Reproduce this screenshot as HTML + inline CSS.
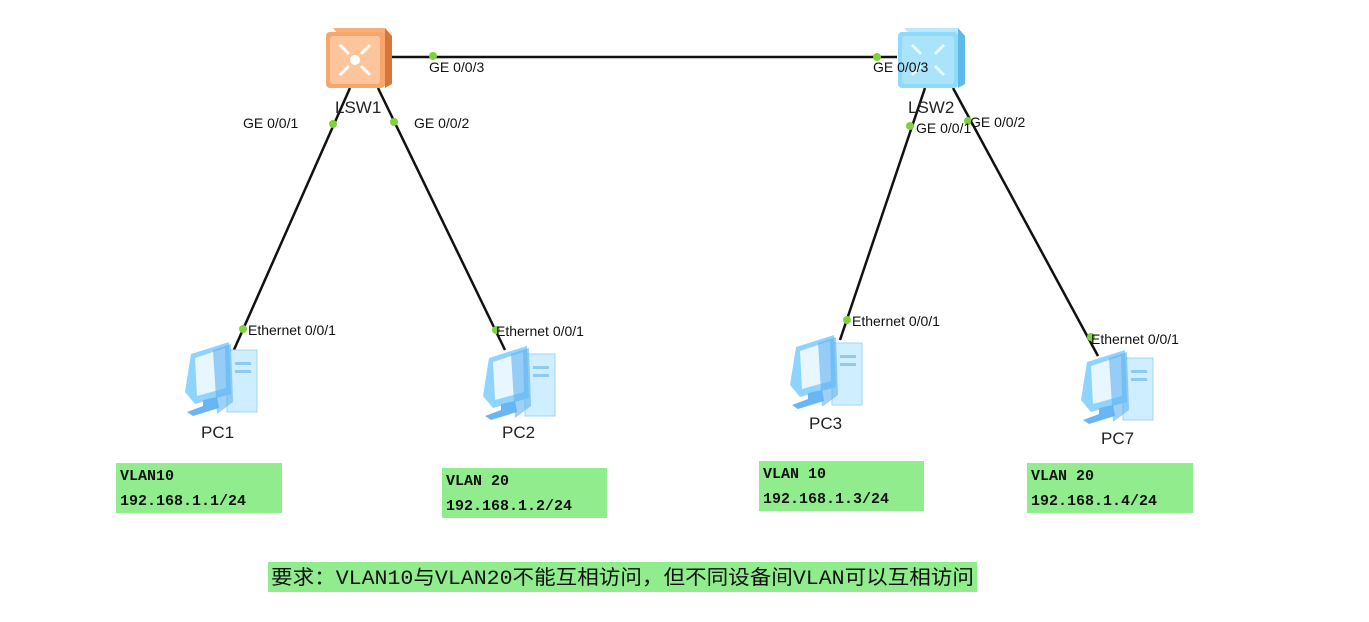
<!DOCTYPE html>
<html><head><meta charset="utf-8"><style>
html,body{margin:0;padding:0;background:#fff;width:1369px;height:622px;overflow:hidden}
svg text{font-family:"Liberation Sans",sans-serif}
.m text{font-family:"Liberation Mono","DejaVu Sans Mono",monospace;font-size:15px;fill:#111;font-weight:bold}
.p text{font-size:14px;fill:#111}
.n text{font-size:17px;fill:#222}
svg text.b{font-family:"Liberation Mono","Noto Sans CJK SC",monospace;font-size:20px;fill:#111}
</style></head><body>
<svg width="1369" height="622" viewBox="0 0 1369 622">
<defs>
<g id="pc">
 <rect x="44" y="8" width="30" height="62" fill="#cfeeff" stroke="#9fd6f5"/>
 <rect x="52" y="20" width="16" height="3" fill="#8fcaf0"/>
 <rect x="52" y="28" width="16" height="3" fill="#8fcaf0"/>
 <polygon points="8,12 46,0 48,52 12,62 2,50" fill="#8fd4ff"/>
 <polygon points="12,16 42,6 43,46 14,54" fill="#e8f7ff"/>
 <polygon points="20,58 34,55 36,66 10,74 4,70 20,64" fill="#6ab6f5"/>
 <polygon points="30,8 48,2 50,60 34,72" fill="#5fb0f0" opacity="0.6"/>
</g>
</defs>
<g stroke="#111" stroke-width="2.5">
 <line x1="392" y1="57" x2="897" y2="57"/>
 <line x1="350" y1="88" x2="233" y2="352"/>
 <line x1="378" y1="88" x2="505" y2="350"/>
 <line x1="925" y1="88" x2="840" y2="340"/>
 <line x1="953" y1="88" x2="1098" y2="356"/>
</g>
<use href="#pc" x="183" y="342"/>
<use href="#pc" x="481" y="346"/>
<use href="#pc" x="788" y="335"/>
<use href="#pc" x="1079" y="350"/>
<g>
 <polygon points="333,28 385,28 392,36 340,36" fill="#f3b07a"/>
 <polygon points="385,28 392,36 392,84 385,88" fill="#d9773a"/>
 <rect x="326" y="32" width="59" height="56" rx="4" fill="#f7a76c"/>
 <rect x="330" y="36" width="50" height="48" rx="3" fill="#fcc59c"/>
 <circle cx="355" cy="60" r="5" fill="#fff"/>
 <g stroke="#fff" stroke-width="3"><line x1="340" y1="45" x2="349" y2="54"/><line x1="370" y1="45" x2="361" y2="54"/><line x1="340" y1="75" x2="349" y2="66"/><line x1="370" y1="75" x2="361" y2="66"/></g>
</g>
<g>
 <polygon points="904,28 958,28 965,36 911,36" fill="#bde9fb"/>
 <polygon points="958,28 965,36 965,84 958,88" fill="#5fb8ea"/>
 <rect x="898" y="32" width="60" height="56" rx="4" fill="#8fdaf8"/>
 <rect x="902" y="36" width="52" height="48" rx="3" fill="#a9e4fb"/>
 <g stroke="#e8f8ff" stroke-width="3"><line x1="912" y1="45" x2="921" y2="54"/><line x1="944" y1="45" x2="935" y2="54"/><line x1="912" y1="75" x2="921" y2="66"/><line x1="944" y1="75" x2="935" y2="66"/></g>
</g>
<g fill="#7ed23a">
 <circle cx="433" cy="56" r="4"/><circle cx="877" cy="57" r="4"/>
 <circle cx="333" cy="124" r="4"/><circle cx="394" cy="122" r="4"/>
 <circle cx="243" cy="329" r="4"/><circle cx="496" cy="330" r="4"/>
 <circle cx="910" cy="126" r="4"/><circle cx="968" cy="121" r="4"/>
 <circle cx="847" cy="320" r="4"/><circle cx="1091" cy="337" r="4"/>
</g>
<g class="p">
 <text x="429" y="72">GE 0/0/3</text>
 <text x="873" y="72">GE 0/0/3</text>
 <text x="243" y="128">GE 0/0/1</text>
 <text x="414" y="128">GE 0/0/2</text>
 <text x="916" y="133">GE 0/0/1</text>
 <text x="970" y="127">GE 0/0/2</text>
 <text x="248" y="335">Ethernet 0/0/1</text>
 <text x="496" y="336">Ethernet 0/0/1</text>
 <text x="852" y="326">Ethernet 0/0/1</text>
 <text x="1091" y="344">Ethernet 0/0/1</text>
</g>
<g class="n">
 <text x="335" y="113">LSW1</text>
 <text x="908" y="113">LSW2</text>
 <text x="201" y="438">PC1</text>
 <text x="502" y="438">PC2</text>
 <text x="809" y="429">PC3</text>
 <text x="1101" y="444">PC7</text>
</g>
<g fill="#90ec8c">
 <rect x="116" y="463" width="166" height="50"/>
 <rect x="442" y="468" width="165" height="50"/>
 <rect x="759" y="461" width="165" height="50"/>
 <rect x="1027" y="463" width="166" height="50"/>
 <rect x="268" y="562" width="709" height="30"/>
</g>
<g class="m">
 <text x="120" y="480">VLAN10</text><text x="120" y="505">192.168.1.1/24</text>
 <text x="446" y="485">VLAN 20</text><text x="446" y="510">192.168.1.2/24</text>
 <text x="763" y="478">VLAN 10</text><text x="763" y="503">192.168.1.3/24</text>
 <text x="1031" y="480">VLAN 20</text><text x="1031" y="505">192.168.1.4/24</text>
</g>
<text class="b" x="271" y="584" textLength="703" lengthAdjust="spacingAndGlyphs">要求：VLAN10与VLAN20不能互相访问，但不同设备间VLAN可以互相访问</text>
</svg>
</body></html>
